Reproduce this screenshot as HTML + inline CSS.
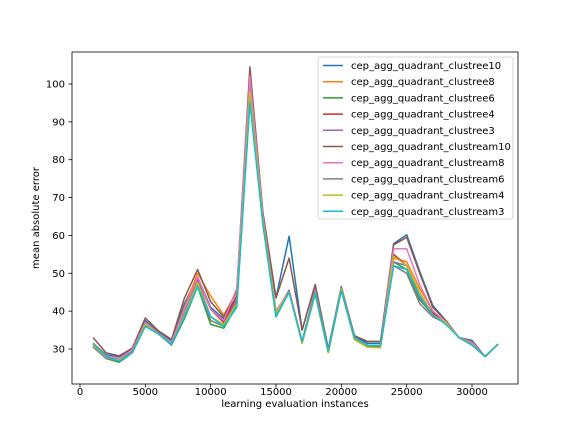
<!DOCTYPE html>
<html><head><meta charset="utf-8"><style>
body{margin:0;background:#fff}
svg{display:block;font-family:"DejaVu Sans","Liberation Sans",sans-serif}
</style></head><body>
<svg id="chart" width="576" height="432" viewBox="0 0 576 432">
<rect x="0" y="0" width="576" height="432" fill="#fff"/>
<g id="series"></g>
<rect x="72" y="52" width="446" height="332" fill="none" stroke="#000" stroke-width="0.8"/>
<g id="axes"></g>
<text x="295" y="407" text-anchor="middle" font-size="10">learning evaluation instances</text>
<text transform="translate(39,218) rotate(-90)" text-anchor="middle" font-size="10">mean absolute error</text>
<g id="legend"></g>
</svg>
<script>
const xValues = [1000,2000,3000,4000,5000,6000,7000,8000,9000,10000,11000,12000,13000,14000,15000,16000,17000,18000,19000,20000,21000,22000,23000,24000,25000,26000,27000,28000,29000,30000,31000,32000];
const seriesNames = ["cep_agg_quadrant_clustree10","cep_agg_quadrant_clustree8","cep_agg_quadrant_clustree6","cep_agg_quadrant_clustree4","cep_agg_quadrant_clustree3","cep_agg_quadrant_clustream10","cep_agg_quadrant_clustream8","cep_agg_quadrant_clustream6","cep_agg_quadrant_clustream4","cep_agg_quadrant_clustream3"];
const seriesColors = ["#1f77b4","#ff7f0e","#2ca02c","#d62728","#9467bd","#8c564b","#e377c2","#7f7f7f","#bcbd22","#17becf"];
const s0 = [31.5,28.5,28,30,37.5,34.5,32,42,49,41,38,44,97,66,43.5,59.8,35,47,30,46,33.5,31.5,31.5,57.8,60.2,50.5,41.5,37.5,33,32.3,28,31.3];
const s1 = [31,28,27.5,29.5,37,34,31.5,41,50,44,39,45,99,65,40,45,32,46,29.5,46,33,31,31,54,53,46,40,37,33,31.5,28,31.3];
const s2 = [30.8,27.5,26.5,29,36,34,31,38,46.5,36.5,35.5,41.5,96,63,38.5,45,31.5,44.5,29,45.5,32.5,30.5,30.5,53,51,43,39,37,33,31,28,31.3];
const s3 = [31.5,28,27.5,29.5,37,34,31.5,40,48.5,40.5,37,44,100,65,39.5,45.5,32,45.5,29.5,46,33,31,31,55,52,44,39.5,37,33,31.5,28,31.3];
const s4 = [31,28,27,29.5,37,34,31.5,40,48,38.5,36.5,43,101,65,39.5,45,32,45,29.5,46,33,31,31,53,52,43.5,39,37,33,31.5,28,31.3];
const s5 = [33,29,28.2,30.2,38.2,34.8,32.5,43.5,51,42.5,38.5,45.5,104.5,66,43.5,54,35,47,30,46.5,33.5,32,32,57.5,59.5,50,41,37.5,33,32,28,31.3];
const s6 = [31.5,28.2,27.5,29.8,37,34.2,31.8,40.5,49,40.5,37.5,46,102,65,40,45.2,32,45.5,29.5,46,33,31,31,56.5,56.5,47,40,37.2,33,31.8,28,31.3];
const s7 = [30.5,27.5,26.8,29.2,36.5,34,31.2,38.5,47,37.5,36,42.5,97,64,39,45,31.8,45,29.2,45.8,32.8,30.8,30.8,52,50,42,38.5,36.8,33,31.2,28,31.3];
const s8 = [31,27.8,27,29,36.5,34,31.2,39,47.5,38.5,36.5,42,98,64,39.5,45,31.5,45,29,46,32.5,30.5,30.3,54.5,52,45,39,37,33,31.2,28,31.3];
const s9 = [31.5,28,26.8,29,36,34,31.2,38.5,46.5,38.5,36,41,95,63,38.5,45,32,45,29.5,45.5,33,31,31,52,51,44,39,36.5,33,31,28,31.3];
const seriesValues = [s0,s1,s2,s3,s4,s5,s6,s7,s8,s9];
const xTicks = [0,5000,10000,15000,20000,25000,30000];
const yTicks = [30,40,50,60,70,80,90,100];

const NS="http://www.w3.org/2000/svg";
const xs = v => 80 + v*(392/30000);
const ys = v => 349 - (v-30)*3.786;
function mk(tag, attrs, parent){const e=document.createElementNS(NS,tag);for(const k in attrs)e.setAttribute(k,attrs[k]);parent.appendChild(e);return e;}
const axes=document.getElementById('axes');
xTicks.forEach(t=>{
  const l=mk('line',{x1:xs(t),x2:xs(t),y1:384,y2:387.5,stroke:'#000','stroke-width':0.8},axes);
  
  
  const tx=mk('text',{x:xs(t),y:395,'text-anchor':'middle','font-size':10},axes);
  tx.textContent=t;
  
  
});
yTicks.forEach(t=>{
  const l=mk('line',{x1:68.5,x2:72,y1:ys(t),y2:ys(t),stroke:'#000','stroke-width':0.8},axes);
  
  
  const tx=mk('text',{x:65,y:ys(t)+3.5,'text-anchor':'end','font-size':10},axes);
  tx.textContent=t;
  
  
});
const sg=document.getElementById('series');
seriesValues.forEach((vals,i)=>{
  const pts=vals.map((v,j)=>xs(xValues[j]).toFixed(1)+','+ys(v).toFixed(1)).join(' ');
  const p=mk('polyline',{points:pts,fill:'none',stroke:seriesColors[i],'stroke-width':1.5,'stroke-linejoin':'round'},sg);
  
  
});
const lg=document.getElementById('legend');
const box=mk('rect',{x:318,y:57,width:195,height:162,rx:2,fill:'#fff','fill-opacity':0.8,stroke:'#ccc','stroke-width':0.8},lg);


seriesNames.forEach((n,i)=>{
  const y=65.5+i*16.2;
  const g=mk('g',{},lg);
  
  
  mk('line',{x1:323,x2:343,y1:y,y2:y,stroke:seriesColors[i],'stroke-width':1.5},g);
  const t=mk('text',{x:351,y:y+3.5,'font-size':10},g);
  t.textContent=n;
});
</script>
</body></html>
